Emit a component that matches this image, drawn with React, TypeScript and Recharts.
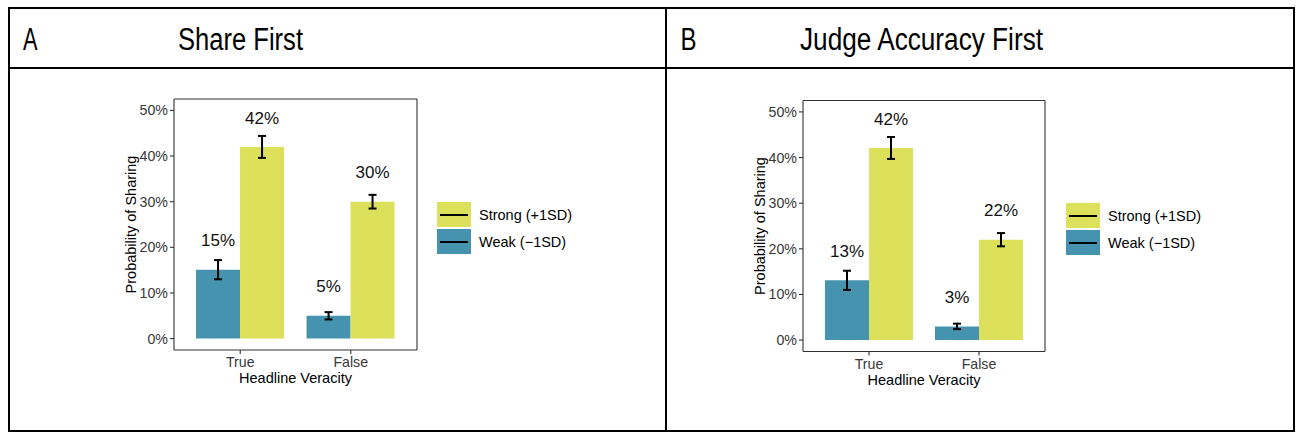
import React from 'react';
import { BarChart, Bar, XAxis, YAxis, ErrorBar, LabelList, Legend } from 'recharts';

// ---------- data ----------
const categories = ['True', 'False'];
const shareWeak = [15.1, 5.0];
const shareStrong = [42.0, 30.0];
const shareWeakErr = [2.1, 0.8];
const shareStrongErr = [2.4, 1.5];
const judgeWeak = [13.1, 3.0];
const judgeStrong = [42.1, 22.0];
const judgeWeakErr = [2.1, 0.6];
const judgeStrongErr = [2.4, 1.45];
const yTicks = [0, 10, 20, 30, 40, 50];
const weakName = 'Weak (\u22121SD)';
const strongName = 'Strong (+1SD)';
const panelTitles = ['Share First', 'Judge Accuracy First'];
const panelLetters = ['A', 'B'];

// ---------- styles ----------
const FONT = '"Liberation Sans", Arial, Helvetica, sans-serif';
const BLUE = '#4593AF';
const YELLOW = '#DCE05A';
const AXIS = '#333333';
const SERIES_COLORS: Record<string, string> = { weak: BLUE, strong: YELLOW };
const LEGEND_ORDER = ['strong', 'weak'];

const buildRows = (weak: number[], strong: number[], weakErr: number[], strongErr: number[]) =>
  categories.map((cat, i) => ({ cat, weak: weak[i], strong: strong[i], weakErr: weakErr[i], strongErr: strongErr[i] }));

const shareRows = buildRows(shareWeak, shareStrong, shareWeakErr, shareStrongErr);
const judgeRows = buildRows(judgeWeak, judgeStrong, judgeWeakErr, judgeStrongErr);

const ValueLabel = (props: any) => {
  const { x, y, width, value } = props;
  return (
    <text x={x + width / 2} y={y - 23.4} textAnchor="middle" fontSize={17} fontFamily={FONT} fill="#111">
      {`${Math.round(value)}%`}
    </text>
  );
};

const LegendContent = (props: any) => {
  const items = [...(props.payload || [])].sort(
    (a: any, b: any) => LEGEND_ORDER.indexOf(a.dataKey) - LEGEND_ORDER.indexOf(b.dataKey)
  );
  return (
    <div style={{ fontFamily: FONT, whiteSpace: 'nowrap', width: 160 }}>
      {items.map((it: any, i: number) => (
        <div key={i} style={{ display: 'flex', alignItems: 'center', height: 25, marginBottom: 2 }}>
          <div
            style={{
              width: 34,
              minWidth: 34,
              flexShrink: 0,
              height: 25,
              background: SERIES_COLORS[it.dataKey] || it.color,
              position: 'relative',
            }}
          >
            <div style={{ position: 'absolute', left: 3, top: 12, width: 28, height: 1.5, background: '#000' }} />
          </div>
          <span style={{ marginLeft: 8, fontSize: 14.5, color: '#000' }}>{it.value}</span>
        </div>
      ))}
    </div>
  );
};

type PanelProps = {
  rows: any[];
  left: number;
  width: number;
  margin: { top: number; right: number; bottom: number; left: number };
  legendPos: { left: number; top: number };
};

const Panel = ({ rows, left, width, margin, legendPos }: PanelProps) => (
  <div style={{ position: 'absolute', left, top: 0, width, height: 433 }}>
    <BarChart
      width={width}
      height={433}
      data={rows}
      margin={{ ...margin, top: margin.top - 1, right: margin.right - 1 }}
      barCategoryGap="10%"
      barGap={0}
    >
      <XAxis
        dataKey="cat"
        padding={{ left: 11, right: 11 }}
        height={40}
        tickSize={4}
        tickMargin={3}
        axisLine={{ stroke: AXIS, strokeWidth: 1.1 }}
        tickLine={{ stroke: AXIS, strokeWidth: 1.1 }}
        tick={{ fill: '#383838', fontSize: 14.2, fontFamily: FONT }}
        label={{ value: 'Headline Veracity', position: 'insideBottom', offset: 7, fill: '#000', fontSize: 14.5, fontFamily: FONT }}
      />
      <XAxis
        xAxisId="top"
        dataKey="cat"
        orientation="top"
        height={1}
        tick={false}
        tickLine={false}
        axisLine={{ stroke: AXIS, strokeWidth: 1.1 }}
      />
      <YAxis
        type="number"
        domain={[-2.5, 52.5]}
        ticks={yTicks}
        allowDataOverflow
        width={60}
        tickSize={4}
        tickMargin={2}
        interval={0}
        tickFormatter={(v: number) => `${v}%`}
        axisLine={{ stroke: AXIS, strokeWidth: 1.1 }}
        tickLine={{ stroke: AXIS, strokeWidth: 1.1 }}
        tick={{ fill: '#383838', fontSize: 14.2, fontFamily: FONT }}
        label={{
          value: 'Probability of Sharing',
          angle: -90,
          position: 'insideLeft',
          offset: 16.5,
          fill: '#000',
          fontSize: 14.5,
          fontFamily: FONT,
          style: { textAnchor: 'middle' },
        }}
      />
      <YAxis
        yAxisId="right"
        orientation="right"
        type="number"
        domain={[-2.5, 52.5]}
        width={1}
        tick={false}
        tickLine={false}
        axisLine={{ stroke: AXIS, strokeWidth: 1.1 }}
      />
      <Legend
        content={<LegendContent />}
        wrapperStyle={{ position: 'absolute', left: legendPos.left, top: legendPos.top, width: 0, height: 0, overflow: 'visible' }}
      />
      <Bar dataKey="weak" name={weakName} fill={BLUE} isAnimationActive={false}>
        <ErrorBar dataKey="weakErr" width={4} stroke="#000" strokeWidth={2} />
        <LabelList dataKey="weak" content={<ValueLabel />} />
      </Bar>
      <Bar dataKey="strong" name={strongName} fill={YELLOW} isAnimationActive={false}>
        <ErrorBar dataKey="strongErr" width={4} stroke="#000" strokeWidth={2} />
        <LabelList dataKey="strong" content={<ValueLabel />} />
      </Bar>
    </BarChart>
  </div>
);

const Frame = () => (
  <svg width={1296} height={433} style={{ position: 'absolute', left: 0, top: 0 }}>
    <rect x={9} y={8} width={1285} height={423} fill="none" stroke="#000" strokeWidth={2} />
    <line x1={8} x2={1295} y1={68} y2={68} stroke="#000" strokeWidth={2} />
    <line x1={666} x2={666} y1={7} y2={432} stroke="#000" strokeWidth={2} />
    <g fontFamily={FONT} fontSize={31} fill="#000">
      <text x={23} y={50} textLength={14.5} lengthAdjust="spacingAndGlyphs">{panelLetters[0]}</text>
      <text x={178} y={50} textLength={125} lengthAdjust="spacingAndGlyphs">{panelTitles[0]}</text>
      <text x={680.5} y={50} textLength={16} lengthAdjust="spacingAndGlyphs">{panelLetters[1]}</text>
      <text x={800} y={50} textLength={243} lengthAdjust="spacingAndGlyphs">{panelTitles[1]}</text>
    </g>
  </svg>
);

export default function App() {
  return (
    <div style={{ position: 'absolute', left: 0, top: 0, width: 1296, height: 433, background: '#fff', overflow: 'hidden' }}>
      <Frame />
      <Panel
        rows={shareRows}
        left={0}
        width={665}
        margin={{ top: 99, right: 248, bottom: 43, left: 114 }}
        legendPos={{ left: 437, top: 202 }}
      />
      <Panel
        rows={judgeRows}
        left={665}
        width={631}
        margin={{ top: 100.5, right: 251, bottom: 41.5, left: 78 }}
        legendPos={{ left: 401, top: 203 }}
      />
    </div>
  );
}
